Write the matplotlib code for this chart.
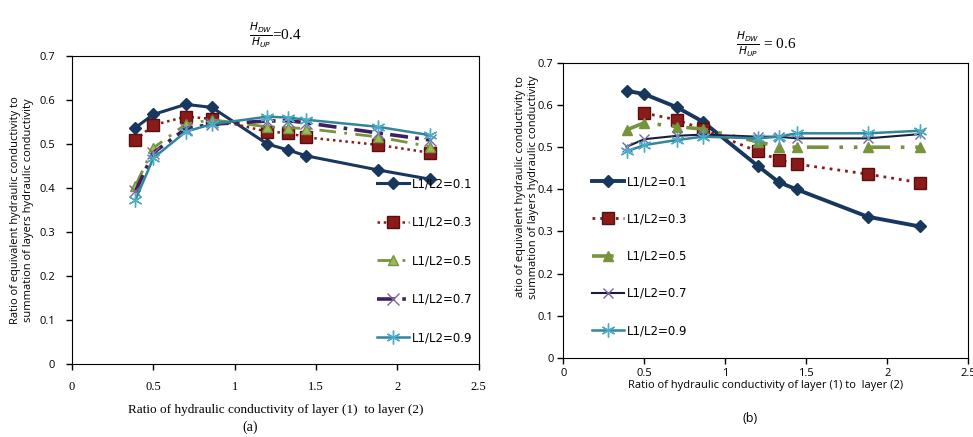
import matplotlib
matplotlib.use("Agg")
import matplotlib.pyplot as plt
from matplotlib.ticker import FuncFormatter

# ratio of hydraulic conductivity, layer (1) / layer (2)
x_ratio = [0.39, 0.5, 0.7, 0.86, 1.2, 1.33, 1.44, 1.88, 2.2]

labels = ["L1/L2=0.1", "L1/L2=0.3", "L1/L2=0.5", "L1/L2=0.7", "L1/L2=0.9"]

# panel (a) H_DW/H_UP = 0.4
a_01 = [0.537, 0.567, 0.590, 0.583, 0.500, 0.486, 0.473, 0.441, 0.420]
a_03 = [0.509, 0.543, 0.562, 0.557, 0.528, 0.525, 0.515, 0.498, 0.480]
a_05 = [0.405, 0.491, 0.545, 0.555, 0.539, 0.537, 0.535, 0.516, 0.494]
a_07 = [0.392, 0.480, 0.535, 0.545, 0.552, 0.553, 0.548, 0.525, 0.509]
a_09 = [0.373, 0.468, 0.528, 0.545, 0.562, 0.560, 0.555, 0.539, 0.520]

# panel (b) H_DW/H_UP = 0.6  (0.3 series has no point at 0.39)
b_01 = [0.634, 0.626, 0.595, 0.561, 0.456, 0.417, 0.400, 0.335, 0.312]
b_03 = [0.581, 0.565, 0.543, 0.490, 0.470, 0.460, 0.436, 0.416]
b_05 = [0.541, 0.558, 0.549, 0.543, 0.513, 0.501, 0.500, 0.500, 0.500]
b_07 = [0.501, 0.519, 0.527, 0.530, 0.525, 0.525, 0.521, 0.521, 0.531]
b_09 = [0.490, 0.505, 0.517, 0.525, 0.521, 0.525, 0.533, 0.533, 0.539]

navy = "#17375E"
darkred = "#8B1A1A"
olive = "#77933C"
purple = "#3F1F5F"
teal = "#31859C"
asterisk = (6, 2, 0)

ylab_a = "Ratio of equivalent hydraulic conductivity to\nsummation of layers hydraulic conductivity"
ylab_b = "atio of equivalent hydraulic conductivity to\nsummation of layers hydraulic conductivity"

fig = plt.figure(figsize=(9.73, 4.37), dpi=100)
ax1 = fig.add_axes([0.074, 0.167, 0.418, 0.705])
ax2 = fig.add_axes([0.579, 0.181, 0.416, 0.675])

fmt = FuncFormatter(lambda v, p: "%g" % round(v, 2))

# ---- panel (a)
ax1.plot(x_ratio, a_01, color=navy, lw=2.2, marker="D", ms=6, label=labels[0])
ax1.plot(x_ratio, a_03, color=darkred, lw=1.8, ls=(0, (1, 1.5)), marker="s", ms=8,
         markeredgecolor="#5A0F0F", label=labels[1])
ax1.plot(x_ratio, a_05, color=olive, lw=2.0, ls=(0, (6, 3, 1, 3)), marker="^", ms=7,
         markerfacecolor="#9BBB59", markeredgecolor=olive, label=labels[2])
ax1.plot(x_ratio, a_07, color=purple, lw=2.6, ls=(0, (5, 2, 1, 2)), marker="x", ms=8,
         markeredgecolor="#8064A2", label=labels[3])
ax1.plot(x_ratio, a_09, color=teal, lw=1.8, marker=asterisk, ms=10,
         markeredgecolor="#4BACC6", label=labels[4])

ax1.set_xlim(0, 2.5)
ax1.set_ylim(0, 0.7)
ax1.set_xticks([0, 0.5, 1, 1.5, 2, 2.5])
ax1.set_yticks([0, 0.1, 0.2, 0.3, 0.4, 0.5, 0.6, 0.7])
ax1.xaxis.set_major_formatter(fmt)
ax1.yaxis.set_major_formatter(fmt)
for t in ax1.get_xticklabels():
    t.set_fontfamily("Liberation Serif")
    t.set_fontsize(9)
for t in ax1.get_yticklabels():
    t.set_fontfamily("Open Sans")
    t.set_fontsize(8)
ax1.tick_params(direction="out", length=4, width=1, pad=8)
ax1.set_xlabel("Ratio of hydraulic conductivity of layer (1)  to layer (2)",
               fontfamily="Liberation Serif", fontsize=9.5, labelpad=8)
ax1.set_ylabel(ylab_a, fontfamily="Open Sans", fontsize=8, labelpad=4)
ax1.legend(loc="center right", bbox_to_anchor=(0.995, 0.335), frameon=False, fontsize=8.5,
           labelspacing=2.15, handlelength=2.7, handletextpad=0.2, borderaxespad=0)
ax1.set_title(r"$\frac{H_{DW}}{H_{UP}}$=0.4", fontfamily="Liberation Serif", fontsize=11, pad=12)
fig.text(0.257, 0.015, "(a)", fontfamily="Liberation Serif", fontsize=10, ha="center")

# ---- panel (b)
ax2.plot(x_ratio, b_01, color=navy, lw=2.8, marker="D", ms=6, label=labels[0])
ax2.plot(x_ratio[1:], b_03, color=darkred, lw=2.0, ls=(0, (1, 1.8)), marker="s", ms=8,
         markeredgecolor="#5A0F0F", label=labels[1])
ax2.plot(x_ratio, b_05, color=olive, lw=2.6, ls=(0, (6, 3, 1, 3, 1, 3)), marker="^", ms=7,
         markerfacecolor=olive, markeredgecolor=olive, label=labels[2])
ax2.plot(x_ratio, b_07, color="#1C1C3A", lw=1.5, marker="x", ms=7,
         markeredgecolor="#8064A2", label=labels[3])
ax2.plot(x_ratio, b_09, color=teal, lw=1.8, marker=asterisk, ms=10,
         markeredgecolor="#4BACC6", label=labels[4])

ax2.set_xlim(0, 2.5)
ax2.set_ylim(0, 0.7)
ax2.set_xticks([0, 0.5, 1, 1.5, 2, 2.5])
ax2.set_yticks([0, 0.1, 0.2, 0.3, 0.4, 0.5, 0.6, 0.7])
ax2.xaxis.set_major_formatter(fmt)
ax2.yaxis.set_major_formatter(fmt)
for t in ax2.get_xticklabels() + ax2.get_yticklabels():
    t.set_fontfamily("Open Sans")
    t.set_fontsize(8)
ax2.tick_params(direction="out", length=4, width=1, pad=3)
ax2.set_xlabel("Ratio of hydraulic conductivity of layer (1) to  layer (2)",
               fontfamily="Open Sans", fontsize=8, labelpad=1)
ax2.set_ylabel(ylab_b, fontfamily="Open Sans", fontsize=8, labelpad=-10)
ax2.yaxis.set_label_coords(-0.06, 0.58)
ax2.legend(loc="upper left", bbox_to_anchor=(0.06, 0.635), frameon=False, fontsize=8.5,
           labelspacing=2.05, handlelength=2.7, handletextpad=0.2, borderaxespad=0)
ax2.set_title(r"$\frac{H_{DW}}{H_{UP}}$ = 0.6", fontfamily="Liberation Serif", fontsize=11, pad=10)
fig.text(0.771, 0.035, "(b)", fontfamily="Open Sans", fontsize=9, ha="center")

fig.savefig("out.png", dpi=100)
